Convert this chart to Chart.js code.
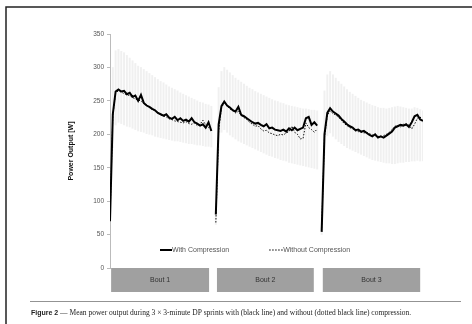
<!DOCTYPE html>
<html>
<head>
<meta charset="utf-8">
<script src="https://cdn.jsdelivr.net/npm/chart.js@4/dist/chart.umd.min.js"></script>
<style>
  html, body { margin: 0; padding: 0; background: #fff; }
  canvas { display: block; }
</style>
</head>
<body>
<canvas id="chart" width="472" height="324"></canvas>
<script>
// bouts and tick labels
const boutLabels = ["Bout 1", "Bout 2", "Bout 3"]
const yTickValues = [0, 50, 100, 150, 200, 250, 300, 350]

// samples every 5 s over each 3-minute bout (0..180 s)
const withBout1 = [70, 230, 264, 267, 264, 265, 260, 262, 256, 258, 250, 259, 247, 243, 241, 238, 236, 232, 230, 228, 230, 225, 223, 226, 221, 224, 220, 222, 219, 224, 218, 216, 213, 215, 210, 218, 205]
const withBout2 = [80, 215, 242, 249, 243, 240, 236, 234, 241, 229, 227, 224, 221, 218, 216, 217, 214, 212, 215, 209, 210, 207, 206, 205, 207, 204, 209, 206, 210, 206, 208, 210, 224, 226, 214, 218, 213]
const withBout3 = [54, 200, 232, 239, 234, 231, 228, 223, 219, 215, 212, 210, 206, 207, 204, 205, 202, 199, 197, 200, 195, 197, 195, 198, 201, 204, 210, 212, 214, 213, 215, 211, 218, 227, 229, 222, 220]

const withoutBout1 = [72, 228, 262, 265, 263, 261, 259, 258, 255, 253, 251, 250, 246, 244, 240, 237, 235, 233, 229, 227, 226, 223, 222, 220, 219, 218, 217, 219, 216, 215, 217, 213, 215, 221, 214, 210, 207]
const withoutBout2 = [68, 205, 240, 247, 242, 238, 235, 232, 234, 228, 225, 222, 218, 215, 212, 213, 208, 205, 206, 202, 201, 199, 198, 200, 199, 202, 204, 212, 203, 200, 193, 194, 217, 210, 207, 203, 208]
const withoutBout3 = [60, 195, 228, 235, 231, 229, 225, 221, 216, 213, 210, 208, 205, 204, 203, 202, 203, 201, 199, 198, 197, 196, 198, 200, 203, 207, 212, 213, 211, 215, 213, 214, 208, 215, 224, 226, 218]

// spread (upper / lower edge of the grey band)
const highBout1 = [75, 300, 325, 327, 324, 322, 318, 314, 310, 306, 302, 300, 297, 294, 291, 288, 285, 282, 279, 277, 274, 271, 269, 267, 265, 262, 260, 258, 256, 254, 252, 250, 248, 247, 245, 244, 242]
const lowBout1 = [65, 180, 214, 218, 216, 214, 212, 211, 209, 207, 205, 204, 203, 201, 200, 199, 197, 196, 195, 194, 193, 192, 191, 190, 190, 189, 188, 187, 186, 186, 185, 184, 184, 183, 182, 182, 181]
const highBout2 = [85, 270, 294, 300, 296, 292, 288, 284, 281, 278, 275, 272, 269, 267, 264, 262, 260, 258, 256, 254, 252, 250, 249, 247, 246, 244, 243, 242, 241, 240, 239, 238, 238, 237, 236, 236, 235]
const lowBout2 = [65, 175, 203, 207, 203, 199, 196, 193, 190, 188, 186, 184, 182, 180, 178, 176, 174, 172, 170, 168, 167, 165, 164, 162, 161, 160, 158, 157, 156, 155, 154, 153, 152, 151, 150, 149, 148]
const highBout3 = [60, 265, 289, 294, 289, 284, 279, 275, 271, 267, 263, 260, 257, 254, 251, 249, 247, 245, 243, 242, 240, 239, 239, 238, 239, 240, 241, 242, 241, 240, 239, 238, 238, 240, 239, 237, 235]
const lowBout3 = [50, 170, 198, 202, 197, 193, 189, 186, 183, 180, 178, 176, 174, 172, 170, 168, 166, 164, 162, 161, 160, 159, 158, 157, 157, 156, 156, 157, 158, 158, 159, 159, 160, 160, 161, 160, 160]

// bout label boxes, in seconds on the x axis
const boxFrom = [2, 190, 378]
const boxTo = [176, 362, 551]

const STEP = 5
const BOUT_SPAN = 188

function toPoints(bouts) {
  const pts = []
  bouts.forEach((vals, b) => {
    if (b > 0) pts.push({ x: b * BOUT_SPAN - 4, y: null })
    vals.forEach((v, i) => pts.push({ x: b * BOUT_SPAN + i * STEP, y: v }))
  })
  return pts
}

function toBand(lows, highs) {
  const pts = []
  lows.forEach((vals, b) => {
    vals.forEach((v, i) => pts.push({ x: b * BOUT_SPAN + i * STEP, y: [v, highs[b][i]] }))
  })
  return pts
}

const decor = {
  id: "decor",
  afterDraw(chart) {
    const { ctx, chartArea, scales } = chart
    const x = scales.x
    ctx.save()

    // frame
    ctx.strokeStyle = "#222"
    ctx.lineWidth = 1.5
    ctx.beginPath()
    ctx.moveTo(6, 324)
    ctx.lineTo(6, 7)
    ctx.lineTo(472, 7)
    ctx.stroke()

    // bout boxes under the axis
    const top = chartArea.bottom
    boutLabels.forEach((label, i) => {
      const x0 = x.getPixelForValue(boxFrom[i])
      const x1 = x.getPixelForValue(boxTo[i])
      ctx.fillStyle = "#a0a0a0"
      ctx.fillRect(x0, top, x1 - x0, 24)
      ctx.fillStyle = "#333"
      ctx.font = "7px Arial"
      ctx.textAlign = "center"
      ctx.textBaseline = "middle"
      ctx.fillText(label, (x0 + x1) / 2, top + 12)
    })

    // legend inside the plot
    const ly = chartArea.bottom - 18
    ctx.font = "7px Arial"
    ctx.textAlign = "left"
    ctx.textBaseline = "middle"
    ctx.fillStyle = "#555"
    const items = chart.data.datasets.filter(d => d.type === "line")
    let lx = 160
    items.forEach((d, i) => {
      ctx.strokeStyle = "#000"
      ctx.lineWidth = d.borderWidth
      ctx.setLineDash(d.borderDash || [])
      ctx.beginPath()
      ctx.moveTo(lx, ly)
      ctx.lineTo(lx + (i ? 14 : 12), ly)
      ctx.stroke()
      ctx.setLineDash([])
      lx += i ? 14 : 12
      ctx.fillText(d.label, lx, ly)
      lx += ctx.measureText(d.label).width + 40
    })

    // separator and caption
    ctx.strokeStyle = "#777"
    ctx.lineWidth = 0.8
    ctx.beginPath()
    ctx.moveTo(30, 301.5)
    ctx.lineTo(461, 301.5)
    ctx.stroke()

    ctx.fillStyle = "#222"
    ctx.textBaseline = "alphabetic"
    ctx.font = "bold 7px Arial"
    ctx.fillText("Figure 2", 31, 315)
    const w = ctx.measureText("Figure 2").width
    ctx.font = "7.5px 'Liberation Serif', serif"
    ctx.fillText(" \u2014 Mean power output during 3 \u00d7 3-minute DP sprints with (black line) and without (dotted black line) compression.", 31 + w, 315, 451 - 31 - w)
    ctx.restore()
  }
}

new Chart(document.getElementById("chart"), {
  type: "line",
  data: {
    datasets: [
      {
        type: "line",
        label: "With Compression",
        data: toPoints([withBout1, withBout2, withBout3]),
        borderColor: "#000",
        borderWidth: 2,
        pointRadius: 0,
        spanGaps: false,
        order: 1,
      },
      {
        type: "line",
        label: "Without Compression",
        data: toPoints([withoutBout1, withoutBout2, withoutBout3]),
        borderColor: "#111",
        borderWidth: 1,
        borderDash: [1.5, 1.5],
        pointRadius: 0,
        spanGaps: false,
        order: 2,
      },
      {
        type: "bar",
        label: "SD",
        data: toBand([lowBout1, lowBout2, lowBout3], [highBout1, highBout2, highBout3]),
        backgroundColor: "rgba(200,200,200,0.28)",
        barThickness: 1.3,
        grouped: false,
        order: 3,
      },
    ],
  },
  options: {
    responsive: false,
    animation: false,
    devicePixelRatio: 1,
    layout: { padding: { left: 0, right: 49, top: 34, bottom: 56 } },
    plugins: {
      legend: { display: false },
      tooltip: { enabled: false },
    },
    scales: {
      x: {
        type: "linear",
        display: false,
        min: 0,
        max: 556,
        offset: false,
      },
      y: {
        min: 0,
        max: 350,
        afterBuildTicks(scale) {
          scale.ticks = yTickValues.map(v => ({ value: v }))
        },
        afterFit(scale) {
          scale.width = 110
        },
        ticks: {
          color: "#555",
          padding: 3,
          font: { size: 6.5, family: "Arial" },
        },
        grid: {
          drawOnChartArea: false,
          drawTicks: true,
          tickLength: 3,
          color: "#bbb",
        },
        border: { color: "#bbb", width: 1 },
        title: {
          display: true,
          text: "Power Output [W]",
          color: "#111",
          font: { size: 7, weight: "bold", family: "Arial" },
          padding: { top: 67, bottom: 0 },
        },
      },
    },
  },
  plugins: [decor],
})
</script>
</body>
</html>
